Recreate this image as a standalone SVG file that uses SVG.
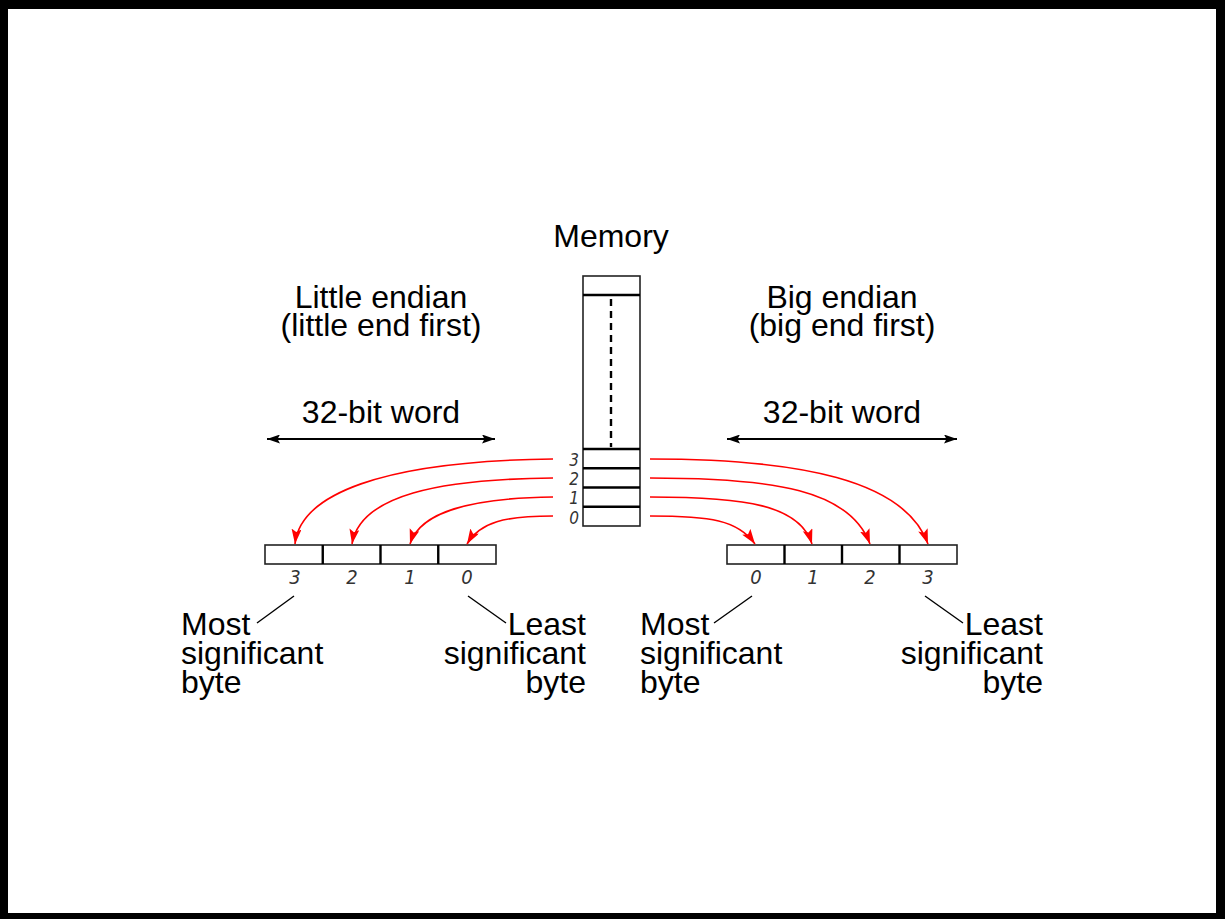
<svg xmlns="http://www.w3.org/2000/svg" width="1225" height="919" viewBox="0 0 1225 919">
  <defs>
    <marker id="redHead" markerUnits="userSpaceOnUse" markerWidth="16" markerHeight="12" refX="15" refY="5" orient="auto">
      <path d="M0,0 L15,5 L0,10 L3,5 Z" fill="#ff0000"/>
    </marker>
    <marker id="blackHead" markerUnits="userSpaceOnUse" markerWidth="14" markerHeight="10" refX="13" refY="4.5" orient="auto">
      <path d="M0,0 L13,4.5 L0,9 L2.5,4.5 Z" fill="#000"/>
    </marker>
    <marker id="blackTail" markerUnits="userSpaceOnUse" markerWidth="14" markerHeight="10" refX="0" refY="4.5" orient="auto">
      <path d="M13,0 L0,4.5 L13,9 L10.5,4.5 Z" fill="#000"/>
    </marker>
  </defs>
  <style>
    .title { font-family: "Liberation Sans", Arial, sans-serif; font-size: 32px; fill: #000; }
    .idx { font-family: "Liberation Sans Narrow", "DejaVu Sans Condensed", "Liberation Sans", sans-serif; font-style: italic; font-size: 20px; fill: #333; }
    .mem { font-size: 17px; }
    .cell { fill: #fff; stroke: #222; stroke-width: 1.6; }
    .div { stroke: #000; stroke-width: 2.4; }
    .red { fill: none; stroke: #ff0000; stroke-width: 1.6; marker-end: url(#redHead); }
    .span { stroke: #000; stroke-width: 2.2; marker-start: url(#blackTail); marker-end: url(#blackHead); }
    .lead { stroke: #000; stroke-width: 1.4; }
  </style>

  <!-- page background and frame -->
  <rect x="0" y="0" width="1225" height="919" fill="#fff"/>
  <path d="M0,0 H1225 V919 H0 Z M8,9 V913 H1216 V9 Z" fill="#000" fill-rule="evenodd"/>

  <!-- memory column -->
  <g id="memory">
    <text class="title" x="611" y="247" text-anchor="middle">Memory</text>
    <rect class="cell" x="583" y="276" width="57" height="250"/>
    <line class="div" x1="583" y1="295" x2="640" y2="295"/>
    <line x1="611" y1="299" x2="611" y2="447" stroke="#000" stroke-width="2.4" stroke-dasharray="7,5"/>
    <line class="div" x1="583" y1="449" x2="640" y2="449"/>
    <line class="div" x1="583" y1="468.25" x2="640" y2="468.25"/>
    <line class="div" x1="583" y1="487.5" x2="640" y2="487.5"/>
    <line class="div" x1="583" y1="506.75" x2="640" y2="506.75"/>
    <text class="idx mem" x="579" y="466" text-anchor="end">3</text>
    <text class="idx mem" x="579" y="485" text-anchor="end">2</text>
    <text class="idx mem" x="579" y="504" text-anchor="end">1</text>
    <text class="idx mem" x="579" y="523.5" text-anchor="end">0</text>
  </g>

  <!-- little endian side -->
  <g id="little-endian">
    <text class="title" x="381" y="308" text-anchor="middle">Little endian</text>
    <text class="title" x="381" y="336" text-anchor="middle">(little end first)</text>
    <text class="title" x="381" y="423" text-anchor="middle">32-bit word</text>
    <rect class="cell" x="265" y="545" width="231" height="19"/>
    <line class="div" x1="322.75" y1="545" x2="322.75" y2="564"/>
    <line class="div" x1="380.5" y1="545" x2="380.5" y2="564"/>
    <line class="div" x1="438.25" y1="545" x2="438.25" y2="564"/>
    <text class="idx" x="295" y="584" text-anchor="middle">3</text>
    <text class="idx" x="352" y="584" text-anchor="middle">2</text>
    <text class="idx" x="410" y="584" text-anchor="middle">1</text>
    <text class="idx" x="467" y="584" text-anchor="middle">0</text>
    <text class="title"><tspan x="181" y="635">Most</tspan><tspan x="181" y="664">significant</tspan><tspan x="181" y="693">byte</tspan></text>
    <text class="title" text-anchor="end"><tspan x="586" y="635">Least</tspan><tspan x="586" y="664">significant</tspan><tspan x="586" y="693">byte</tspan></text>
  </g>

  <!-- big endian side -->
  <g id="big-endian">
    <text class="title" x="842" y="308" text-anchor="middle">Big endian</text>
    <text class="title" x="842" y="336" text-anchor="middle">(big end first)</text>
    <text class="title" x="842" y="423" text-anchor="middle">32-bit word</text>
    <rect class="cell" x="727" y="545" width="230" height="19"/>
    <line class="div" x1="784.5" y1="545" x2="784.5" y2="564"/>
    <line class="div" x1="842" y1="545" x2="842" y2="564"/>
    <line class="div" x1="899.5" y1="545" x2="899.5" y2="564"/>
    <text class="idx" x="756" y="584" text-anchor="middle">0</text>
    <text class="idx" x="813" y="584" text-anchor="middle">1</text>
    <text class="idx" x="870" y="584" text-anchor="middle">2</text>
    <text class="idx" x="928" y="584" text-anchor="middle">3</text>
    <text class="title"><tspan x="640" y="635">Most</tspan><tspan x="640" y="664">significant</tspan><tspan x="640" y="693">byte</tspan></text>
    <text class="title" text-anchor="end"><tspan x="1043" y="635">Least</tspan><tspan x="1043" y="664">significant</tspan><tspan x="1043" y="693">byte</tspan></text>
  </g>

  <!-- connectors -->
  <g id="connectors">
    <line class="span" x1="267" y1="439" x2="495" y2="439"/>
    <line class="span" x1="727" y1="439" x2="957" y2="439"/>

    <path class="red" d="M553,459 C380,461 300,495 295,544"/>
    <path class="red" d="M553,478 C440,479 360,495 352,544"/>
    <path class="red" d="M553,497 C470,498 420,512 410,544"/>
    <path class="red" d="M553,516 C505,516 480,522 467,544"/>

    <path class="red" d="M650,516 C710,516 738,520 755,544"/>
    <path class="red" d="M650,497 C745,497 800,505 812,544"/>
    <path class="red" d="M650,478 C775,478 850,490 870,544"/>
    <path class="red" d="M650,459 C800,459 905,480 928,544"/>

    <line class="lead" x1="257" y1="623" x2="294" y2="596"/>
    <line class="lead" x1="468" y1="596" x2="506" y2="623"/>
    <line class="lead" x1="714" y1="623" x2="752" y2="596"/>
    <line class="lead" x1="925" y1="596" x2="963" y2="623"/>
  </g>
</svg>
